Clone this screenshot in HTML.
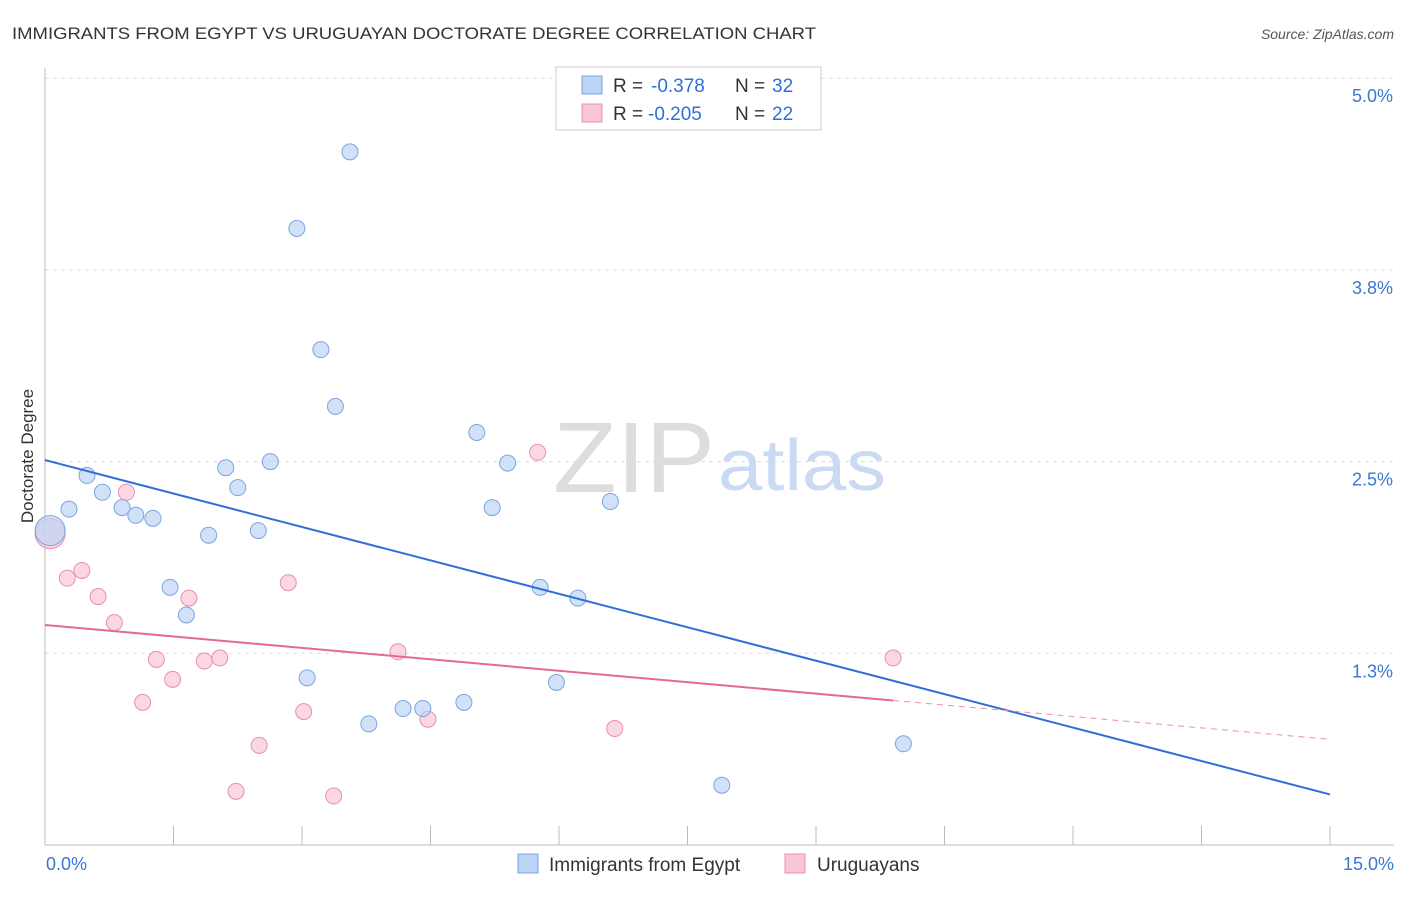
<!DOCTYPE html>
<html><head><meta charset="utf-8"><style>
body{margin:0;background:#fff;font-family:"Liberation Sans",sans-serif;}
svg text{font-family:"Liberation Sans",sans-serif;}
</style></head><body>
<svg id="chart" width="1406" height="892">
<text x="12" y="39" font-size="17" fill="#333" textLength="804" lengthAdjust="spacingAndGlyphs">IMMIGRANTS FROM EGYPT VS URUGUAYAN DOCTORATE DEGREE CORRELATION CHART</text>
<text x="1394" y="39" font-size="14" fill="#555" text-anchor="end" font-style="italic">Source: ZipAtlas.com</text>
<text x="33" y="456" font-size="17" fill="#333" transform="rotate(-90 33 456)" text-anchor="middle">Doctorate Degree</text>
<text x="553" y="492" font-size="100" fill="#ddd" font-family="Liberation Serif" textLength="162" lengthAdjust="spacingAndGlyphs">ZIP</text>
<text x="718" y="490" font-size="72" fill="#c9daf2" textLength="168" lengthAdjust="spacingAndGlyphs">atlas</text>
<g id="grid"></g><g id="marks"></g>
<g>
<rect x="556" y="67" width="265" height="63" fill="#fff" stroke="#ccc"/>
<rect x="582" y="76" width="20" height="18" fill="#bcd4f5" stroke="#7aa5e0"/>
<text y="92" font-size="19" fill="#333"><tspan x="613">R =</tspan><tspan x="651" fill="#2f6fd6">-0.378</tspan><tspan x="735">N =</tspan><tspan x="772" fill="#2f6fd6">32</tspan></text>
<rect x="582" y="104" width="20" height="18" fill="#f8c6d4" stroke="#e890ab"/>
<text y="120" font-size="19" fill="#333"><tspan x="613">R =</tspan><tspan x="648" fill="#2f6fd6">-0.205</tspan><tspan x="735">N =</tspan><tspan x="772" fill="#2f6fd6">22</tspan></text>
</g>
<g>
<rect x="518" y="854" width="20" height="19" fill="#bcd4f5" stroke="#7aa5e0"/>
<text x="549" y="871" font-size="19" fill="#333">Immigrants from Egypt</text>
<rect x="785" y="854" width="20" height="19" fill="#f8c6d4" stroke="#e890ab"/>
<text x="817" y="871" font-size="19" fill="#333">Uruguayans</text>
</g>
</svg>
<script>
const yTicks=[1.25,2.5,3.75,5.0];
const yTickLabels=["1.3%","2.5%","3.8%","5.0%"];
const xTicks=[0,1.5,3,4.5,6,7.5,9,10.5,12,13.5,15];
const blueX=[0.06,0.28,0.49,0.67,0.90,1.06,1.26,1.46,1.65,1.91,2.11,2.25,2.49,2.63,2.94,3.06,3.22,3.39,3.56,3.78,4.18,4.41,4.89,5.04,5.22,5.40,5.78,5.97,6.22,6.60,10.02,7.90];
const blueY=[2.05,2.19,2.41,2.30,2.20,2.15,2.13,1.68,1.50,2.02,2.46,2.33,2.05,2.50,4.02,1.09,3.23,2.86,4.52,0.79,0.89,0.89,0.93,2.69,2.20,2.49,1.68,1.06,1.61,2.24,0.66,0.39];
const pinkX=[0.06,0.26,0.43,0.62,0.81,0.95,1.14,1.30,1.49,1.68,1.86,2.04,2.23,2.50,2.84,3.02,3.37,4.12,4.47,5.75,6.65,9.90];
const pinkY=[2.03,1.74,1.79,1.62,1.45,2.30,0.93,1.21,1.08,1.61,1.20,1.22,0.35,0.65,1.71,0.87,0.32,1.26,0.82,2.56,0.76,1.22];
const NS="http://www.w3.org/2000/svg";
const sx=v=>45+v/15*1285, sy=v=>845-v*153.36;
const grid=document.getElementById('grid'), marks=document.getElementById('marks');
function mk(tag,attrs,parent){const e=document.createElementNS(NS,tag);for(const k in attrs)e.setAttribute(k,attrs[k]);parent.appendChild(e);return e;}
yTicks.forEach((t,i)=>{
 const l=mk('line',{x1:45,x2:1394,y1:sy(t),y2:sy(t),stroke:'#ddd','stroke-dasharray':'4,4'},grid);
 
 
 const tx=mk('text',{x:1393,y:sy(t)+24,'font-size':18,fill:'#3a78d4','text-anchor':'end'},grid);
 tx.textContent=yTickLabels[i];
 
 
});
const ax=mk('line',{x1:45,x2:1394,y1:845,y2:845,stroke:'#bbb'},grid);


const ay=mk('line',{x1:45,x2:45,y1:68,y2:845,stroke:'#bbb'},grid);


xTicks.forEach(t=>{const l=mk('line',{x1:sx(t),x2:sx(t),y1:826,y2:845,stroke:'#bbb'},grid);
 
 });
[[0,"0.0%",'start',46],[15,"15.0%",'end',1394]].forEach(a=>{const t=mk('text',{x:a[3],y:870,'font-size':18,fill:'#3a78d4','text-anchor':a[2]},grid);t.textContent=a[1];
 
 });
function pts(X,Y,fill,stroke,name){X.forEach((x,i)=>{const r=i===0?15:8;
 const c=mk('circle',{cx:sx(x),cy:sy(Y[i]),r:r,fill:fill,'fill-opacity':0.7,stroke:stroke,'stroke-width':1},marks);
 
 });}
function reg(X,Y){const n=X.length;let mx=0,my=0;X.forEach((x,i)=>{mx+=x;my+=Y[i];});mx/=n;my/=n;let a=0,b=0;X.forEach((x,i)=>{a+=(x-mx)*(Y[i]-my);b+=(x-mx)**2;});const s=a/b;return [my-s*mx,s];}
pts(pinkX,pinkY,'#f8c6d4','#e890ab','uruguayans-point');
pts(blueX,blueY,'#bcd4f5','#7aa5e0','egypt-point');
const [bi,bs]=reg(blueX,blueY);
const bl=mk('line',{x1:sx(0),y1:sy(bi),x2:sx(15),y2:sy(bi+bs*15),stroke:'#2f6fd6','stroke-width':2},marks);


const [pi,ps]=reg(pinkX,pinkY);const pm=Math.max(...pinkX);
const pl=mk('line',{x1:sx(0),y1:sy(pi),x2:sx(pm),y2:sy(pi+ps*pm),stroke:'#e46a93','stroke-width':2},marks);


const pd=mk('line',{x1:sx(pm),y1:sy(pi+ps*pm),x2:sx(15),y2:sy(pi+ps*15),stroke:'#e890ab','stroke-width':1,'stroke-dasharray':'6,5'},marks);


</script>
</body></html>
